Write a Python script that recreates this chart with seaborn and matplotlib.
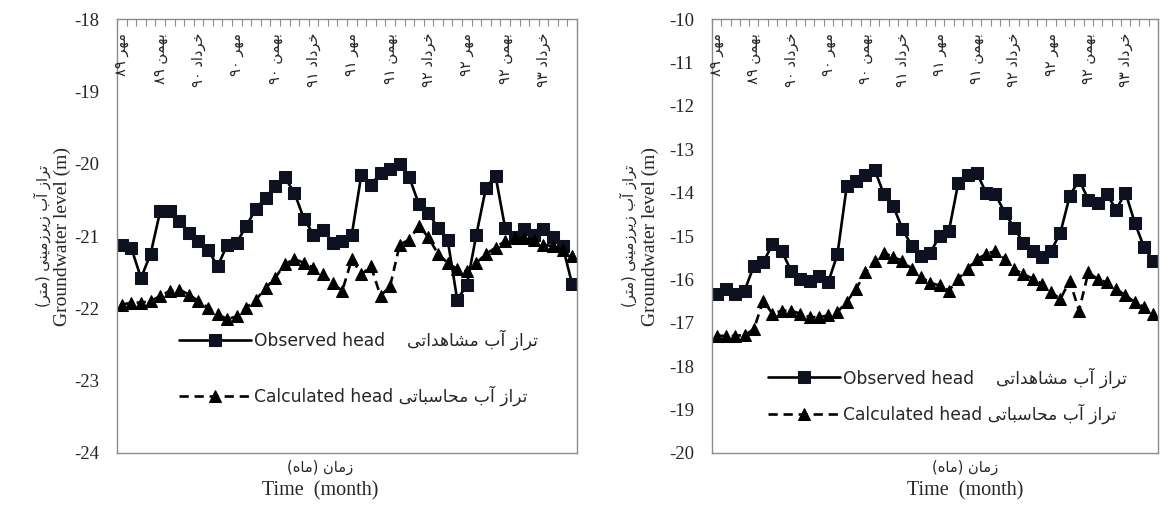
import re
import numpy as np
import pandas as pd
import matplotlib
matplotlib.use("Agg")
import matplotlib.pyplot as plt
import seaborn as sns

# ---------------- data ----------------
months = list(range(48))

left_observed = [-21.12, -21.17, -21.58, -21.25, -20.66, -20.66, -20.79, -20.96, -21.07, -21.19,
                 -21.42, -21.12, -21.09, -20.86, -20.62, -20.47, -20.31, -20.19, -20.40, -20.76,
                 -20.98, -20.92, -21.09, -21.07, -20.98, -20.15, -20.29, -20.13, -20.08, -20.00,
                 -20.19, -20.56, -20.68, -20.89, -21.05, -21.88, -21.68, -20.98, -20.33, -20.17,
                 -20.89, -21.02, -20.91, -20.98, -20.91, -21.02, -21.14, -21.67]
left_calculated = [-21.95, -21.92, -21.92, -21.90, -21.83, -21.76, -21.74, -21.81, -21.90, -21.99,
                   -22.08, -22.15, -22.11, -21.99, -21.88, -21.72, -21.58, -21.39, -21.32, -21.37,
                   -21.44, -21.53, -21.65, -21.76, -21.32, -21.53, -21.42, -21.83, -21.69, -21.12,
                   -21.05, -20.86, -21.02, -21.25, -21.37, -21.46, -21.49, -21.37, -21.25, -21.16,
                   -21.07, -21.03, -21.03, -21.05, -21.12, -21.14, -21.19, -21.28]
right_observed = [-16.33, -16.22, -16.33, -16.26, -15.69, -15.61, -15.19, -15.34, -15.80, -15.99,
                  -16.03, -15.92, -16.07, -15.42, -13.85, -13.74, -13.59, -13.47, -14.04, -14.31,
                  -14.84, -15.23, -15.46, -15.38, -15.00, -14.88, -13.78, -13.59, -13.55, -14.00,
                  -14.04, -14.46, -14.81, -15.15, -15.34, -15.49, -15.34, -14.92, -14.08, -13.70,
                  -14.16, -14.23, -14.04, -14.39, -14.00, -14.69, -15.26, -15.57]
right_calculated = [-17.30, -17.30, -17.30, -17.28, -17.15, -16.49, -16.79, -16.72, -16.72, -16.79,
                    -16.87, -16.87, -16.83, -16.75, -16.52, -16.22, -15.84, -15.57, -15.38, -15.49,
                    -15.57, -15.76, -15.95, -16.08, -16.14, -16.26, -15.99, -15.76, -15.53, -15.42,
                    -15.34, -15.53, -15.76, -15.88, -15.98, -16.10, -16.30, -16.45, -16.03, -16.72,
                    -15.84, -15.99, -16.07, -16.22, -16.37, -16.52, -16.64, -16.79]

month_label_idx = [0, 4, 8, 12, 16, 20, 24, 28, 32, 36, 40, 44]
month_labels = ["مهر ۸۹", "بهمن ۸۹", "خرداد ۹۰", "مهر ۹۰", "بهمن ۹۰", "خرداد ۹۱",
                "مهر ۹۱", "بهمن ۹۱", "خرداد ۹۲", "مهر ۹۲", "بهمن ۹۲", "خرداد ۹۳"]

left_yticks = [-24, -23, -22, -21, -20, -19, -18]
right_yticks = [-20, -19, -18, -17, -16, -15, -14, -13, -12, -11, -10]

obs_en, obs_fa = "Observed head", "تراز آب مشاهداتی"
calc_en, calc_fa = "Calculated head", "تراز آب محاسباتی"
ylabel_en, ylabel_fa = "Groundwater level (m)", "تراز آب زیرزمینی (متر)"
xlabel_en, xlabel_fa = "Time  (month)", "زمان (ماه)"

# ---------------- minimal Persian shaping (presentation forms + RTL order) ----------------
FORMS = {
    'ا': ('\uFE8D', '\uFE8E', None, None),
    'آ': ('\uFE81', '\uFE82', None, None),
    'ب': ('\uFE8F', '\uFE90', '\uFE91', '\uFE92'),
    'ت': ('\uFE95', '\uFE96', '\uFE97', '\uFE98'),
    'ح': ('\uFEA1', '\uFEA2', '\uFEA3', '\uFEA4'),
    'خ': ('\uFEA5', '\uFEA6', '\uFEA7', '\uFEA8'),
    'د': ('\uFEA9', '\uFEAA', None, None),
    'ر': ('\uFEAD', '\uFEAE', None, None),
    'ز': ('\uFEAF', '\uFEB0', None, None),
    'س': ('\uFEB1', '\uFEB2', '\uFEB3', '\uFEB4'),
    'ش': ('\uFEB5', '\uFEB6', '\uFEB7', '\uFEB8'),
    'م': ('\uFEE1', '\uFEE2', '\uFEE3', '\uFEE4'),
    'ن': ('\uFEE5', '\uFEE6', '\uFEE7', '\uFEE8'),
    'ه': ('\uFEE9', '\uFEEA', '\uFEEB', '\uFEEC'),
    'ی': ('\uFEEF', '\uFEF0', '\uFEF3', '\uFEF4'),
}


def fa(s):
    out = []
    n = len(s)
    for k, c in enumerate(s):
        if c not in FORMS:
            out.append(c)
            continue
        prev = s[k - 1] if k > 0 else ''
        nxt = s[k + 1] if k < n - 1 else ''
        jp = prev in FORMS and FORMS[prev][2] is not None
        jn = FORMS[c][2] is not None and nxt in FORMS
        iso, fin, ini, med = FORMS[c]
        out.append(med if (jp and jn) else fin if jp else ini if jn else iso)
    vis = ''.join(out)[::-1]
    vis = re.sub(r'[0-9\u06F0-\u06F9]+', lambda m: m.group(0)[::-1], vis)
    return vis.translate(str.maketrans('()', ')('))


# ---------------- style ----------------
sns.set_theme(style="white")
plt.rcParams['font.family'] = ['DejaVu Sans']
SERIF = ['Liberation Serif', 'DejaVu Serif']
GRAY = '#8c8c8c'

fig = plt.figure(figsize=(11.61, 5.24), dpi=100)
ax_l = fig.add_axes([0.1008, 0.1355, 0.3962, 0.8282])
ax_r = fig.add_axes([0.6133, 0.1355, 0.3841, 0.8282])

panels = [
    (ax_l, left_observed, left_calculated, (-24, -18), left_yticks,
     dict(leg=(0.135, 0.285), spacing=2.1, ylab_en=-0.118, ylab_fa=-0.162, xlab=0.441)),
    (ax_r, right_observed, right_calculated, (-20, -10), right_yticks,
     dict(leg=(0.125, 0.198), spacing=0.95, ylab_en=-0.139, ylab_fa=-0.188, xlab=0.567)),
]

for ax, obs, calc, ylim, yticks, opt in panels:
    df = pd.DataFrame({"month": months, "obs": obs, "calc": calc})
    sns.lineplot(data=df, x="month", y="obs", ax=ax, color="black", linewidth=1.9,
                 marker="s", markersize=8.4, markerfacecolor="#0e1120",
                 markeredgecolor="#0e1120", label=obs_en + "    " + fa(obs_fa))
    sns.lineplot(data=df, x="month", y="calc", ax=ax, color="black", linewidth=1.9,
                 linestyle=(0, (3.5, 2.2)), marker="^", markersize=8.6,
                 markerfacecolor="black", markeredgecolor="black",
                 label=calc_en + " " + fa(calc_fa))

    ax.set_xlim(-0.5, 47.5)
    ax.set_ylim(*ylim)
    ax.set_yticks(yticks)
    ax.set_yticklabels([str(v) for v in yticks], family=SERIF, fontsize=13.5)
    ax.tick_params(axis='y', length=0, pad=13)
    ax.xaxis.tick_top()
    ax.set_xticks(np.arange(-0.5, 48, 1))
    ax.tick_params(axis='x', top=True, bottom=False, direction='in', length=5,
                   width=0.8, color=GRAY, labeltop=False, labelbottom=False)
    for sp in ax.spines.values():
        sp.set_color(GRAY)
        sp.set_linewidth(1.0)
    ax.set_xlabel("")
    ax.set_ylabel("")

    # month labels along the top
    for idx, lab in zip(month_label_idx, month_labels):
        ax.text(idx, 0.968, fa(lab), transform=ax.get_xaxis_transform(), rotation=90,
                ha='center', va='top', fontsize=10.5, family='DejaVu Sans')

    # axis titles
    ax.text(opt['ylab_en'], 0.5, ylabel_en, transform=ax.transAxes, rotation=90,
            ha='center', va='center', fontsize=14, family=SERIF)
    ax.text(opt['ylab_fa'], 0.5, fa(ylabel_fa), transform=ax.transAxes, rotation=90,
            ha='center', va='center', fontsize=10.5, family='DejaVu Sans')
    ax.text(opt['xlab'], -0.088, xlabel_en, transform=ax.transAxes,
            ha='center', va='center', fontsize=14.5, family=SERIF)
    ax.text(opt['xlab'], -0.033, fa(xlabel_fa), transform=ax.transAxes,
            ha='center', va='center', fontsize=10.5, family='DejaVu Sans')

    leg = ax.legend(loc='upper left', bbox_to_anchor=opt['leg'], frameon=False,
                    fontsize=12.3, handlelength=4.2, handletextpad=0.2,
                    labelspacing=opt['spacing'], borderpad=0, borderaxespad=0)

fig.savefig("out.png", dpi=100)
